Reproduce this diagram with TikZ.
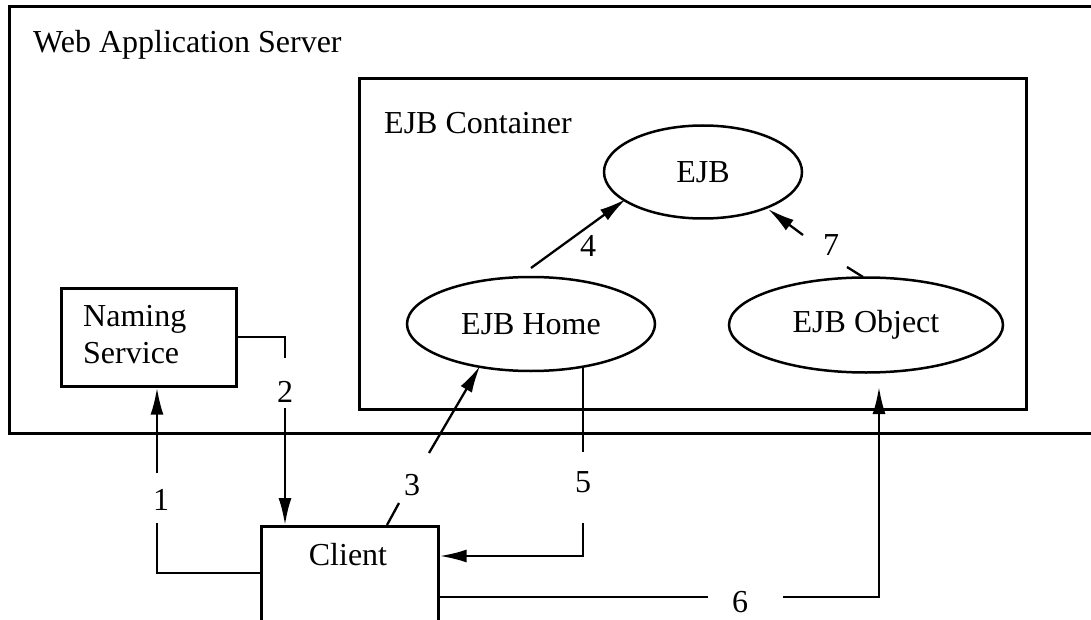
\documentclass[tikz,border=0pt]{standalone}
\usepackage{fontspec}
\setmainfont{Liberation Serif}
\usetikzlibrary{shapes.geometric,arrows.meta}
\begin{document}
\begin{tikzpicture}[x=1pt,y=-1pt,
  box/.style={draw,line width=2.7pt,inner sep=0pt,anchor=north west},
  conn/.style={line width=2.3pt},
  arr/.style={conn,-{Latex[length=27pt,width=13pt]}},
  lbl/.style={font=\fontsize{32}{38}\selectfont,inner sep=0pt},
  oval/.style={draw,ellipse,line width=2.5pt,inner sep=0pt,font=\fontsize{32}{38}\selectfont}]
\useasboundingbox (0,0) rectangle (1091,620);
\clip (0,0) rectangle (1091,620);
% boxes
\node[box,minimum width=1112pt,minimum height=427pt] (was) at (8,5) {};
\node[box,minimum width=667pt,minimum height=331pt] (cont) at (358,77) {};
\node[box,minimum width=175pt,minimum height=98pt] (naming) at (60,287) {};
\node[box,minimum width=177pt,minimum height=130pt] (client) at (260,525) {};
% ellipses
\node[oval,minimum width=198pt,minimum height=93pt] (ejb) at (703,172) {EJB};
\node[oval,minimum width=248pt,minimum height=94pt] (home) at (531,324) {EJB Home};
\node[oval,minimum width=274pt,minimum height=95pt] (obj) at (866,325) {EJB Object};
% texts
\node[lbl,anchor=base west] (wastxt) at (33,53) {Web Application Server};
\node[lbl,anchor=base west] (conttxt) at (384,134) {EJB Container};
\node[lbl,anchor=base west] (nam1) at (83,326) {Naming};
\node[lbl,anchor=base west] (nam2) at (83,363) {Service};
\node[lbl,anchor=base] (clitxt) at (348,565) {Client};
% numbers
\node[lbl] (n1) at (161,500) {1};
\node[lbl] (n2) at (285,392) {2};
\node[lbl] (n3) at (412,485) {3};
\node[lbl] (n4) at (588,246) {4};
\node[lbl] (n5) at (583,482) {5};
\node[lbl] (n6) at (740,602) {6};
\node[lbl] (n7) at (831,245) {7};
% connectors
\draw[conn] (client.west |- 0,573) -| (157,523);
\draw[arr] (157,473) -- (naming.south -| 157,0);
\draw[conn] (naming.east |- 0,337) -| (285,358);
\draw[arr] (285,408) -- (client.north -| 285,0);
\draw[conn] (client.north -| 387,0) -- (399,503);
\draw[arr] (429,453) -- (480,366);
\draw[arr] (531,268) -- (626,199);
\draw[conn] (583,367) -- (583,452);
\draw[arr] (583,523) |- (client.east |- 0,556);
\draw[conn] (client.east |- 0,597) -- (708,597);
\draw[arr] (783,597) -| (879,387);
\draw[conn] (863,277) -- (847,267);
\draw[arr] (803,235) -- (768,209);
\end{tikzpicture}
\end{document}
